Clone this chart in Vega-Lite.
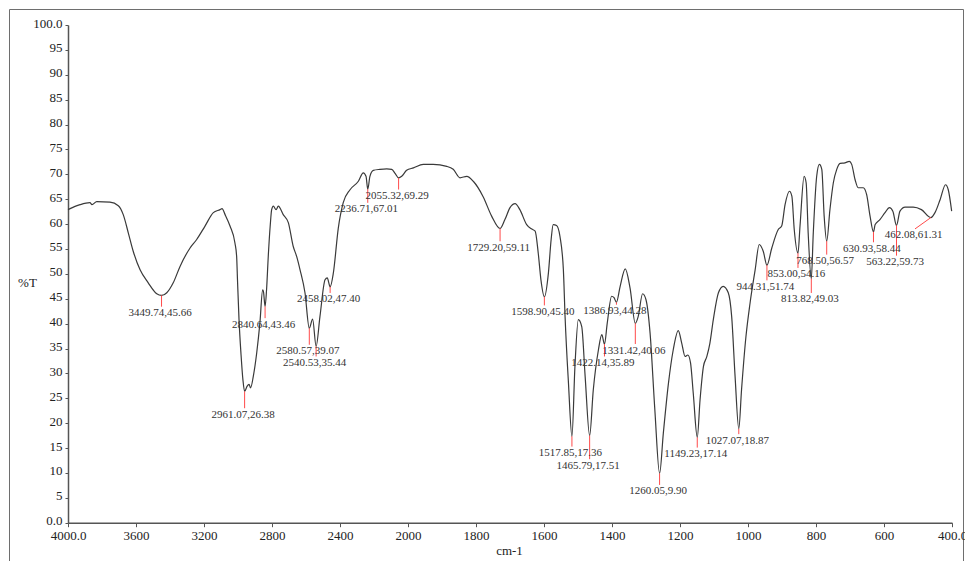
{
  "$schema": "https://vega.github.io/schema/vega-lite/v6.json",
  "autosize": "none",
  "padding": {"left": 9, "top": 9, "right": 12, "bottom": 0},
  "width": 954,
  "height": 556,
  "background": "white",
  "config": {
    "view": {"stroke": "#6e6e6e", "strokeWidth": 1},
    "axis": {
      "labelFont": "Liberation Serif",
      "labelFontSize": 13,
      "labelColor": "#222222",
      "titleFont": "Liberation Serif",
      "titleFontSize": 13,
      "titleFontWeight": "normal",
      "titleColor": "#222222",
      "domainColor": "#555555",
      "domainWidth": 1.5,
      "tickColor": "#555555",
      "tickWidth": 1,
      "grid": false,
      "labelOverlap": false,
      "labelFlush": false
    }
  },
  "datasets": {
    "spectrum": [
      {"wn": 4000, "T": 62.9}, {"wn": 3929, "T": 63.9}, {"wn": 3871, "T": 64.3}, {"wn": 3859, "T": 63.9},
      {"wn": 3831, "T": 64.5}, {"wn": 3753, "T": 64.4}, {"wn": 3704, "T": 63.7}, {"wn": 3675, "T": 61.9},
      {"wn": 3645, "T": 58.2}, {"wn": 3616, "T": 54.5}, {"wn": 3576, "T": 50.8}, {"wn": 3528, "T": 48.2},
      {"wn": 3478, "T": 46.0}, {"wn": 3449.74, "T": 45.66}, {"wn": 3419, "T": 46.2}, {"wn": 3381, "T": 48.2},
      {"wn": 3341, "T": 51.5}, {"wn": 3282, "T": 55.2}, {"wn": 3243, "T": 56.9}, {"wn": 3194, "T": 59.6},
      {"wn": 3145, "T": 62.3}, {"wn": 3106, "T": 62.9}, {"wn": 3094, "T": 63.1}, {"wn": 3076, "T": 61.9},
      {"wn": 3047, "T": 59.6}, {"wn": 3018, "T": 56.2}, {"wn": 3008, "T": 53.5}, {"wn": 3003, "T": 48.8},
      {"wn": 2994, "T": 40.8}, {"wn": 2982, "T": 33.7}, {"wn": 2971, "T": 28.7}, {"wn": 2961.07, "T": 26.38},
      {"wn": 2947, "T": 27.4}, {"wn": 2935, "T": 27.8}, {"wn": 2926, "T": 27.1}, {"wn": 2910, "T": 29.4},
      {"wn": 2890, "T": 34.1}, {"wn": 2871, "T": 40.2}, {"wn": 2855, "T": 46.8}, {"wn": 2850, "T": 46.4},
      {"wn": 2840.64, "T": 43.46}, {"wn": 2832, "T": 46.8}, {"wn": 2822, "T": 53.5}, {"wn": 2810, "T": 59.9},
      {"wn": 2802, "T": 62.9}, {"wn": 2792, "T": 63.6}, {"wn": 2776, "T": 62.9}, {"wn": 2763, "T": 63.6},
      {"wn": 2734, "T": 61.9}, {"wn": 2704, "T": 60.3}, {"wn": 2675, "T": 55.5}, {"wn": 2655, "T": 53.5},
      {"wn": 2635, "T": 50.8}, {"wn": 2606, "T": 46.2}, {"wn": 2580.57, "T": 39.07}, {"wn": 2561, "T": 40.9},
      {"wn": 2540.53, "T": 35.44}, {"wn": 2518, "T": 41.4}, {"wn": 2488, "T": 48.8}, {"wn": 2475, "T": 49.2},
      {"wn": 2458.02, "T": 47.4}, {"wn": 2439, "T": 50.2}, {"wn": 2410, "T": 59.2}, {"wn": 2381, "T": 64.3},
      {"wn": 2341, "T": 66.9}, {"wn": 2292, "T": 68.6}, {"wn": 2263, "T": 70.3}, {"wn": 2247, "T": 69.6},
      {"wn": 2236.71, "T": 67.01}, {"wn": 2224, "T": 69.6}, {"wn": 2204, "T": 70.8}, {"wn": 2165, "T": 71.0},
      {"wn": 2125, "T": 71.1}, {"wn": 2096, "T": 71.0}, {"wn": 2076, "T": 70.2}, {"wn": 2055.32, "T": 69.29},
      {"wn": 2037, "T": 69.6}, {"wn": 2008, "T": 70.8}, {"wn": 1984, "T": 71.3}, {"wn": 1955, "T": 72.0},
      {"wn": 1926, "T": 72.0}, {"wn": 1886, "T": 71.6}, {"wn": 1867, "T": 71.0}, {"wn": 1847, "T": 69.3},
      {"wn": 1827, "T": 69.6}, {"wn": 1808, "T": 68.6}, {"wn": 1779, "T": 65.5}, {"wn": 1754, "T": 61.6},
      {"wn": 1729.2, "T": 59.11}, {"wn": 1715, "T": 60.9}, {"wn": 1700, "T": 63.3}, {"wn": 1685, "T": 64.1},
      {"wn": 1671, "T": 62.9}, {"wn": 1651, "T": 59.9}, {"wn": 1636, "T": 59.0}, {"wn": 1626, "T": 58.6},
      {"wn": 1617, "T": 54.2}, {"wn": 1609, "T": 48.8}, {"wn": 1598.9, "T": 45.4}, {"wn": 1587, "T": 50.2},
      {"wn": 1579, "T": 56.9}, {"wn": 1573, "T": 59.9}, {"wn": 1563, "T": 59.7}, {"wn": 1553, "T": 57.5},
      {"wn": 1543, "T": 50.8}, {"wn": 1538, "T": 41.4}, {"wn": 1528, "T": 28.0}, {"wn": 1517.85, "T": 17.36},
      {"wn": 1509, "T": 31.4}, {"wn": 1499, "T": 40.8}, {"wn": 1489, "T": 39.4}, {"wn": 1479, "T": 29.4},
      {"wn": 1465.79, "T": 17.51}, {"wn": 1455, "T": 26.7}, {"wn": 1440, "T": 34.7}, {"wn": 1430, "T": 37.8},
      {"wn": 1422.14, "T": 35.89}, {"wn": 1414, "T": 40.1}, {"wn": 1401, "T": 45.5}, {"wn": 1394, "T": 45.2},
      {"wn": 1386.93, "T": 44.28}, {"wn": 1376, "T": 47.5}, {"wn": 1361, "T": 51.0}, {"wn": 1347, "T": 47.2},
      {"wn": 1331.42, "T": 40.06}, {"wn": 1323, "T": 41.4}, {"wn": 1310, "T": 46.0}, {"wn": 1300, "T": 44.8},
      {"wn": 1288, "T": 38.1}, {"wn": 1274, "T": 22.7}, {"wn": 1260.05, "T": 9.9}, {"wn": 1249, "T": 18.0},
      {"wn": 1234, "T": 28.0}, {"wn": 1220, "T": 34.7}, {"wn": 1205, "T": 38.6}, {"wn": 1195, "T": 36.1},
      {"wn": 1185, "T": 33.4}, {"wn": 1177, "T": 33.7}, {"wn": 1169, "T": 32.1}, {"wn": 1161, "T": 26.0},
      {"wn": 1149.23, "T": 17.14}, {"wn": 1141, "T": 24.7}, {"wn": 1131, "T": 31.4}, {"wn": 1121, "T": 33.4},
      {"wn": 1112, "T": 36.1}, {"wn": 1102, "T": 40.8}, {"wn": 1087, "T": 46.2}, {"wn": 1073, "T": 47.5},
      {"wn": 1058, "T": 46.2}, {"wn": 1048, "T": 41.4}, {"wn": 1038, "T": 29.4}, {"wn": 1027.07, "T": 18.87},
      {"wn": 1019, "T": 26.7}, {"wn": 1006, "T": 37.4}, {"wn": 994, "T": 44.1}, {"wn": 979, "T": 50.8},
      {"wn": 967, "T": 55.9}, {"wn": 955, "T": 54.5}, {"wn": 944.31, "T": 51.74}, {"wn": 930, "T": 55.2},
      {"wn": 911, "T": 58.9}, {"wn": 901, "T": 59.6}, {"wn": 891, "T": 63.9}, {"wn": 878, "T": 66.6},
      {"wn": 871, "T": 65.6}, {"wn": 864, "T": 58.9}, {"wn": 853, "T": 54.16}, {"wn": 847, "T": 59.6},
      {"wn": 835, "T": 69.6}, {"wn": 829, "T": 68.3}, {"wn": 823, "T": 58.2}, {"wn": 813.82, "T": 49.03},
      {"wn": 808, "T": 58.2}, {"wn": 798, "T": 69.6}, {"wn": 790, "T": 72.0}, {"wn": 783, "T": 71.0},
      {"wn": 776, "T": 61.6}, {"wn": 768.5, "T": 56.57}, {"wn": 759, "T": 62.9}, {"wn": 749, "T": 68.3},
      {"wn": 739, "T": 71.0}, {"wn": 729, "T": 72.2}, {"wn": 715, "T": 72.3}, {"wn": 702, "T": 72.6},
      {"wn": 695, "T": 72.0}, {"wn": 685, "T": 68.9}, {"wn": 676, "T": 67.3}, {"wn": 661, "T": 67.3},
      {"wn": 651, "T": 65.9}, {"wn": 641, "T": 61.6}, {"wn": 630.93, "T": 58.44}, {"wn": 626, "T": 59.9},
      {"wn": 612, "T": 60.9}, {"wn": 597, "T": 62.3}, {"wn": 584, "T": 63.3}, {"wn": 574, "T": 62.6},
      {"wn": 563.22, "T": 59.73}, {"wn": 553, "T": 62.6}, {"wn": 538, "T": 63.4}, {"wn": 514, "T": 63.4},
      {"wn": 490, "T": 62.9}, {"wn": 462.08, "T": 61.31}, {"wn": 450, "T": 62.3}, {"wn": 435, "T": 64.9},
      {"wn": 419, "T": 67.9}, {"wn": 411, "T": 66.9}, {"wn": 401, "T": 62.6}
    ],
    "peaks": [
      {"wn": 3449.74, "T": 45.66, "lx": 3449.74, "tip": 43.4, "label": "3449.74,45.66"},
      {"wn": 2961.07, "T": 26.38, "lx": 2961.07, "tip": 23.0, "label": "2961.07,26.38"},
      {"wn": 2840.64, "T": 43.46, "lx": 2840.64, "tip": 41.1, "label": "2840.64,43.46"},
      {"wn": 2580.57, "T": 39.07, "lx": 2580.57, "tip": 35.75, "label": "2580.57,39.07"},
      {"wn": 2540.53, "T": 35.44, "lx": 2540.53, "tip": 33.4, "label": "2540.53,35.44"},
      {"wn": 2458.02, "T": 47.4, "lx": 2458.02, "tip": 46.16, "label": "2458.02,47.40"},
      {"wn": 2236.71, "T": 67.01, "lx": 2236.71, "tip": 64.27, "label": "2236.71,67.01"},
      {"wn": 2055.32, "T": 69.29, "lx": 2055.32, "tip": 66.94, "label": "2055.32,69.29"},
      {"wn": 1729.2, "T": 59.11, "lx": 1729.2, "tip": 56.54, "label": "1729.20,59.11"},
      {"wn": 1598.9, "T": 45.4, "lx": 1598.9, "tip": 43.66, "label": "1598.90,45.40"},
      {"wn": 1517.85, "T": 17.36, "lx": 1517.85, "tip": 15.29, "label": "1517.85,17.36"},
      {"wn": 1465.79, "T": 17.51, "lx": 1465.79, "tip": 12.76, "label": "1465.79,17.51"},
      {"wn": 1422.14, "T": 35.89, "lx": 1422.14, "tip": 33.4, "label": "1422.14,35.89"},
      {"wn": 1386.93, "T": 44.28, "lx": 1386.93, "tip": 43.8, "label": "1386.93,44.28"},
      {"wn": 1331.42, "T": 40.06, "lx": 1331.42, "tip": 35.9, "label": "1331.42,40.06"},
      {"wn": 1260.05, "T": 9.9, "lx": 1260.05, "tip": 7.59, "label": "1260.05,9.90"},
      {"wn": 1149.23, "T": 17.14, "lx": 1149.23, "tip": 15.09, "label": "1149.23,17.14"},
      {"wn": 1027.07, "T": 18.87, "lx": 1027.07, "tip": 17.79, "label": "1027.07,18.87"},
      {"wn": 944.31, "T": 51.74, "lx": 944.31, "tip": 48.69, "label": "944.31,51.74"},
      {"wn": 853.0, "T": 54.16, "lx": 853.0, "tip": 51.19, "label": "853.00,54.16"},
      {"wn": 813.82, "T": 49.03, "lx": 813.82, "tip": 46.16, "label": "813.82,49.03"},
      {"wn": 768.5, "T": 56.57, "lx": 768.5, "tip": 53.86, "label": "768.50,56.57"},
      {"wn": 630.93, "T": 58.44, "lx": 630.93, "tip": 56.34, "label": "630.93,58.44"},
      {"wn": 563.22, "T": 59.73, "lx": 563.22, "tip": 53.66, "label": "563.22,59.73"},
      {"wn": 462.08, "T": 61.31, "lx": 508.8, "tip": 59.03, "label": "462.08,61.31"}
    ]
  },
  "encoding": {
    "x": {
      "field": "wn",
      "type": "quantitative",
      "scale": {"domain": [4000, 2000, 400], "range": [59, 399, 943], "nice": false, "zero": false},
      "axis": {
        "title": "cm-1",
        "orient": "bottom",
        "offset": -42.3,
        "values": [4000, 3600, 3200, 2800, 2400, 2000, 1800, 1600, 1400, 1200, 1000, 800, 600, 400],
        "labelExpr": "datum.value == 4000 || datum.value == 400 ? format(datum.value, '.1f') : format(datum.value, 'd')",
        "tickSize": 4,
        "labelPadding": 3,
        "titleX": 500,
        "titleY": 28,
        "titleAlign": "center",
        "titleBaseline": "middle",
        "titleAnchor": null
      }
    },
    "y": {
      "field": "T",
      "type": "quantitative",
      "scale": {"domain": [0, 100], "range": [513.7, 16], "nice": false, "zero": false},
      "axis": {
        "title": "%T",
        "orient": "left",
        "offset": -59,
        "values": [0, 5, 10, 15, 20, 25, 30, 35, 40, 45, 50, 55, 60, 65, 70, 75, 80, 85, 90, 95, 100],
        "labelExpr": "datum.value == 0 || datum.value == 100 ? format(datum.value, '.1f') : format(datum.value, 'd')",
        "tickSize": 3,
        "labelPadding": 3,
        "labelOffset": -2,
        "titleAngle": 0,
        "titleX": -41,
        "titleY": 273.7,
        "titleAlign": "center",
        "titleBaseline": "middle",
        "titleAnchor": null
      }
    }
  },
  "layer": [
    {
      "data": {"name": "spectrum"},
      "mark": {"type": "line", "color": "#3a3a3a", "strokeWidth": 1.2, "interpolate": "monotone"}
    },
    {
      "data": {"name": "peaks"},
      "mark": {"type": "rule", "color": "#ff4a4a", "strokeWidth": 1},
      "encoding": {
        "x2": {"field": "lx"},
        "y2": {"field": "tip"}
      }
    },
    {
      "data": {"name": "peaks"},
      "mark": {"type": "text", "font": "Liberation Serif", "fontSize": 11, "color": "#333333", "baseline": "middle", "align": "center", "dy": 6.5, "dx": -1.5},
      "encoding": {
        "x": {"field": "lx", "type": "quantitative"},
        "y": {"field": "tip", "type": "quantitative"},
        "text": {"field": "label"}
      }
    }
  ]
}
